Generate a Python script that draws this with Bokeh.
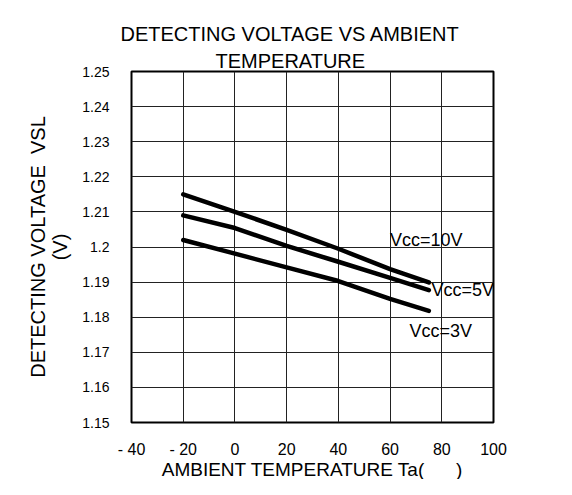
from bokeh.plotting import figure
from bokeh.models import FixedTicker, Title, Label, Range1d
from bokeh.embed import file_html
from bokeh.resources import INLINE

# ---- data ----
temps = [-20, 0, 20, 40, 60, 75]
vsl_10v = [1.215, 1.210, 1.2049, 1.1995, 1.1937, 1.1899]
vsl_5v = [1.209, 1.2054, 1.2003, 1.1958, 1.1912, 1.1877]
vsl_3v = [1.202, 1.1981, 1.1942, 1.1903, 1.1852, 1.1818]

series_labels = ["Vcc=10V", "Vcc=5V", "Vcc=3V"]
label_x = [60, 76, 67.5]
label_y = [1.2021, 1.1877, 1.1762]

x_ticks = [-40, -20, 0, 20, 40, 60, 80, 100]
x_tick_labels = ["- 40", "- 20", "0", "20", "40", "60", "80", "100"]
y_tick_labels = ["1.15", "1.16", "1.17", "1.18", "1.19", "1.2",
                 "1.21", "1.22", "1.23", "1.24", "1.25"]
y_ticks = [float(s) for s in y_tick_labels]

title_line1 = "DETECTING VOLTAGE VS AMBIENT"
title_line2 = "TEMPERATURE"
x_title = "AMBIENT TEMPERATURE Ta(" + "\u00a0" * 6 + ")"
y_title = "DETECTING VOLTAGE\u00a0 VSL\n(V)"

FONT = "Liberation Sans"

p = figure(width=556, height=479, output_backend="svg", toolbar_location=None,
           x_range=Range1d(-40, 100), y_range=Range1d(1.15, 1.25),
           min_border_left=131, min_border_right=63,
           min_border_top=71, min_border_bottom=57)
p.title = None

p.outline_line_color = "black"
p.outline_line_width = 2
p.background_fill_color = "white"
p.border_fill_color = "white"

# titles (first added sits nearest the frame)
t2 = Title(text=title_line2, align="left", offset=84, standoff=0,
           text_font=FONT, text_font_size="20px", text_font_style="normal",
           text_color="black")
t1 = Title(text=title_line1, align="left", offset=-11, standoff=6,
           text_font=FONT, text_font_size="20px", text_font_style="normal",
           text_color="black")
p.add_layout(t2, "above")
p.add_layout(t1, "above")

# axes
p.xaxis.ticker = FixedTicker(ticks=x_ticks)
p.xaxis.major_label_overrides = dict(zip(x_ticks, x_tick_labels))
p.yaxis.ticker = FixedTicker(ticks=y_ticks)
p.yaxis.major_label_overrides = dict(zip(y_ticks, y_tick_labels))

for ax in (p.xaxis[0], p.yaxis[0]):
    ax.axis_line_color = None
    ax.major_tick_line_color = None
    ax.minor_tick_line_color = None
    ax.major_tick_out = 0
    ax.major_tick_in = 0
    ax.major_label_text_font = FONT
    ax.major_label_text_color = "black"
    ax.axis_label_text_font = FONT
    ax.axis_label_text_font_style = "normal"
    ax.axis_label_text_color = "black"

p.xaxis.major_label_text_font_size = "16px"
p.xaxis.major_label_standoff = 18
p.yaxis.major_label_text_font_size = "14px"
p.yaxis.major_label_standoff = 22

p.yaxis.axis_label = y_title
p.yaxis.axis_label_text_font_size = "20px"
p.yaxis.axis_label_text_line_height = 1.0
p.yaxis.axis_label_standoff = 8

# x-axis title as a title below the axis (keeps the bottom panel compact)
xt = Title(text=x_title, align="center", standoff=-8,
           text_font=FONT, text_font_size="19px", text_font_style="normal",
           text_color="black", text_line_height=1.0)
p.add_layout(xt, "below")

p.xgrid.ticker = FixedTicker(ticks=x_ticks)
p.ygrid.ticker = FixedTicker(ticks=y_ticks)
p.grid.grid_line_color = "#222222"
p.grid.grid_line_width = 1
p.grid.grid_line_alpha = 1.0

# curves
for ys in (vsl_10v, vsl_5v, vsl_3v):
    p.line(temps, ys, line_color="black", line_width=4.5, line_cap="round",
           line_join="round")

for txt, lx, ly in zip(series_labels, label_x, label_y):
    p.add_layout(Label(x=lx, y=ly, text=txt, text_font=FONT,
                       text_font_size="18px", text_color="black",
                       text_align="left", text_baseline="middle"))

open("out.html", "w").write(file_html(p, INLINE))
